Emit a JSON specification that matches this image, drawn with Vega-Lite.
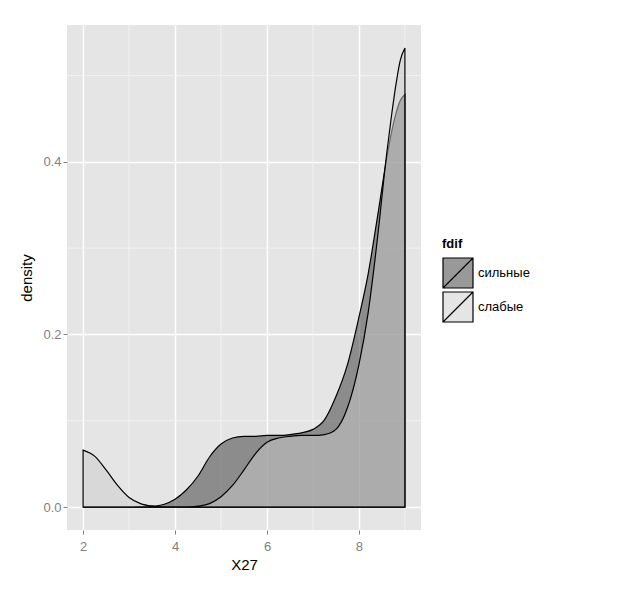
{
  "$schema": "https://vega.github.io/schema/vega-lite/v6.json",
  "width": 354,
  "height": 505,
  "autosize": "none",
  "padding": {"left": 67, "top": 25, "right": 223, "bottom": 60},
  "background": "white",
  "config": {
    "font": "Liberation Sans",
    "view": {"fill": "#e5e5e5", "stroke": null},
    "axis": {
      "labelColor": "#7f7f7f",
      "labelFontSize": 13,
      "tickColor": "#7f7f7f",
      "tickSize": 4,
      "domain": false,
      "gridColor": "white",
      "gridWidth": 1.5,
      "titleFontWeight": "normal",
      "titleFontSize": 15,
      "titleColor": "black"
    },
    "axisX": {"labelPadding": 6, "titlePadding": 4},
    "axisY": {"labelPadding": 2, "titlePadding": 8},
    "legend": {
      "orient": "none",
      "legendX": 375,
      "legendY": 213,
      "titleFontSize": 13,
      "titleFontWeight": "bold",
      "titleColor": "black",
      "labelFontSize": 13,
      "labelColor": "black",
      "symbolType": "M-1,-1H1V1H-1ZM-1,1L1,-1",
      "symbolSize": 900,
      "symbolStrokeColor": "black",
      "symbolStrokeWidth": 1.2,
      "rowPadding": -8,
      "labelOffset": 4,
      "titlePadding": 6
    }
  },
  "datasets": {
    "gx": [{"x": 3}, {"x": 5}, {"x": 7}, {"x": 9}],
    "gy": [{"y": 0.1}, {"y": 0.3}, {"y": 0.5}],
    "dens": [
      {"fdif": "сильные", "x": 2.0, "y": 0.0},
      {"fdif": "сильные", "x": 2.5, "y": 0.0},
      {"fdif": "сильные", "x": 3.0, "y": 0.0},
      {"fdif": "сильные", "x": 3.25, "y": 0.0005},
      {"fdif": "сильные", "x": 3.5, "y": 0.001},
      {"fdif": "сильные", "x": 3.75, "y": 0.003},
      {"fdif": "сильные", "x": 4.0, "y": 0.009},
      {"fdif": "сильные", "x": 4.25, "y": 0.02},
      {"fdif": "сильные", "x": 4.5, "y": 0.036},
      {"fdif": "сильные", "x": 4.75, "y": 0.058},
      {"fdif": "сильные", "x": 5.0, "y": 0.073},
      {"fdif": "сильные", "x": 5.25, "y": 0.080},
      {"fdif": "сильные", "x": 5.5, "y": 0.082},
      {"fdif": "сильные", "x": 5.75, "y": 0.082},
      {"fdif": "сильные", "x": 6.0, "y": 0.083},
      {"fdif": "сильные", "x": 6.25, "y": 0.083},
      {"fdif": "сильные", "x": 6.5, "y": 0.084},
      {"fdif": "сильные", "x": 6.75, "y": 0.086},
      {"fdif": "сильные", "x": 7.0, "y": 0.090},
      {"fdif": "сильные", "x": 7.25, "y": 0.101},
      {"fdif": "сильные", "x": 7.5, "y": 0.128},
      {"fdif": "сильные", "x": 7.75, "y": 0.165},
      {"fdif": "сильные", "x": 8.0, "y": 0.22},
      {"fdif": "сильные", "x": 8.2, "y": 0.27},
      {"fdif": "сильные", "x": 8.4, "y": 0.335},
      {"fdif": "сильные", "x": 8.6, "y": 0.403},
      {"fdif": "сильные", "x": 8.7, "y": 0.432},
      {"fdif": "сильные", "x": 8.8, "y": 0.455},
      {"fdif": "сильные", "x": 8.9, "y": 0.471},
      {"fdif": "сильные", "x": 9.0, "y": 0.478},
      {"fdif": "слабые", "x": 2.0, "y": 0.066},
      {"fdif": "слабые", "x": 2.25, "y": 0.059},
      {"fdif": "слабые", "x": 2.5, "y": 0.043},
      {"fdif": "слабые", "x": 2.75, "y": 0.025},
      {"fdif": "слабые", "x": 3.0, "y": 0.011},
      {"fdif": "слабые", "x": 3.25, "y": 0.004},
      {"fdif": "слабые", "x": 3.5, "y": 0.001},
      {"fdif": "слабые", "x": 3.75, "y": 0.0},
      {"fdif": "слабые", "x": 4.0, "y": 0.0},
      {"fdif": "слабые", "x": 4.25, "y": 0.0},
      {"fdif": "слабые", "x": 4.5, "y": 0.001},
      {"fdif": "слабые", "x": 4.75, "y": 0.004},
      {"fdif": "слабые", "x": 5.0, "y": 0.012},
      {"fdif": "слабые", "x": 5.25, "y": 0.025},
      {"fdif": "слабые", "x": 5.5, "y": 0.043},
      {"fdif": "слабые", "x": 5.75, "y": 0.062},
      {"fdif": "слабые", "x": 6.0, "y": 0.075},
      {"fdif": "слабые", "x": 6.25, "y": 0.080},
      {"fdif": "слабые", "x": 6.5, "y": 0.082},
      {"fdif": "слабые", "x": 6.75, "y": 0.083},
      {"fdif": "слабые", "x": 7.0, "y": 0.083},
      {"fdif": "слабые", "x": 7.25, "y": 0.084},
      {"fdif": "слабые", "x": 7.5, "y": 0.090},
      {"fdif": "слабые", "x": 7.75, "y": 0.115},
      {"fdif": "слабые", "x": 8.0, "y": 0.165},
      {"fdif": "слабые", "x": 8.2, "y": 0.225},
      {"fdif": "слабые", "x": 8.4, "y": 0.31},
      {"fdif": "слабые", "x": 8.6, "y": 0.408},
      {"fdif": "слабые", "x": 8.7, "y": 0.45},
      {"fdif": "слабые", "x": 8.8, "y": 0.488},
      {"fdif": "слабые", "x": 8.9, "y": 0.518},
      {"fdif": "слабые", "x": 9.0, "y": 0.532}
    ]
  },
  "layer": [
    {
      "data": {"name": "gx"},
      "mark": {"type": "rule", "color": "#f2f2f2", "strokeWidth": 1},
      "encoding": {
        "x": {
          "field": "x",
          "type": "quantitative",
          "scale": {"domain": [1.65, 9.35], "nice": false, "zero": false},
          "axis": {"values": [2, 4, 6, 8], "format": "d", "title": "X27"}
        }
      }
    },
    {
      "data": {"name": "gy"},
      "mark": {"type": "rule", "color": "#f2f2f2", "strokeWidth": 1},
      "encoding": {
        "y": {
          "field": "y",
          "type": "quantitative",
          "scale": {"domain": [-0.0266, 0.5586], "nice": false, "zero": false},
          "axis": {"values": [0, 0.2, 0.4], "format": ".1f", "title": "density"}
        }
      }
    },
    {
      "data": {"name": "dens"},
      "mark": {
        "type": "area",
        "interpolate": "monotone",
        "stroke": "black",
        "strokeWidth": 1.2,
        "fillOpacity": 0.5
      },
      "encoding": {
        "x": {
          "field": "x",
          "type": "quantitative",
          "scale": {"domain": [1.65, 9.35], "nice": false, "zero": false},
          "axis": {"values": [2, 4, 6, 8], "format": "d", "title": "X27"}
        },
        "y": {
          "field": "y",
          "type": "quantitative",
          "stack": null,
          "scale": {"domain": [-0.0266, 0.5586], "nice": false, "zero": false},
          "axis": {"values": [0, 0.2, 0.4], "format": ".1f", "title": "density"}
        },
        "color": {
          "field": "fdif",
          "type": "nominal",
          "scale": {"domain": ["сильные", "слабые"], "range": ["#333333", "#cccccc"]},
          "legend": {
            "title": "fdif",
            "encode": {"symbols": {"update": {"fillOpacity": {"value": 0.5}}}}
          }
        }
      }
    }
  ]
}
